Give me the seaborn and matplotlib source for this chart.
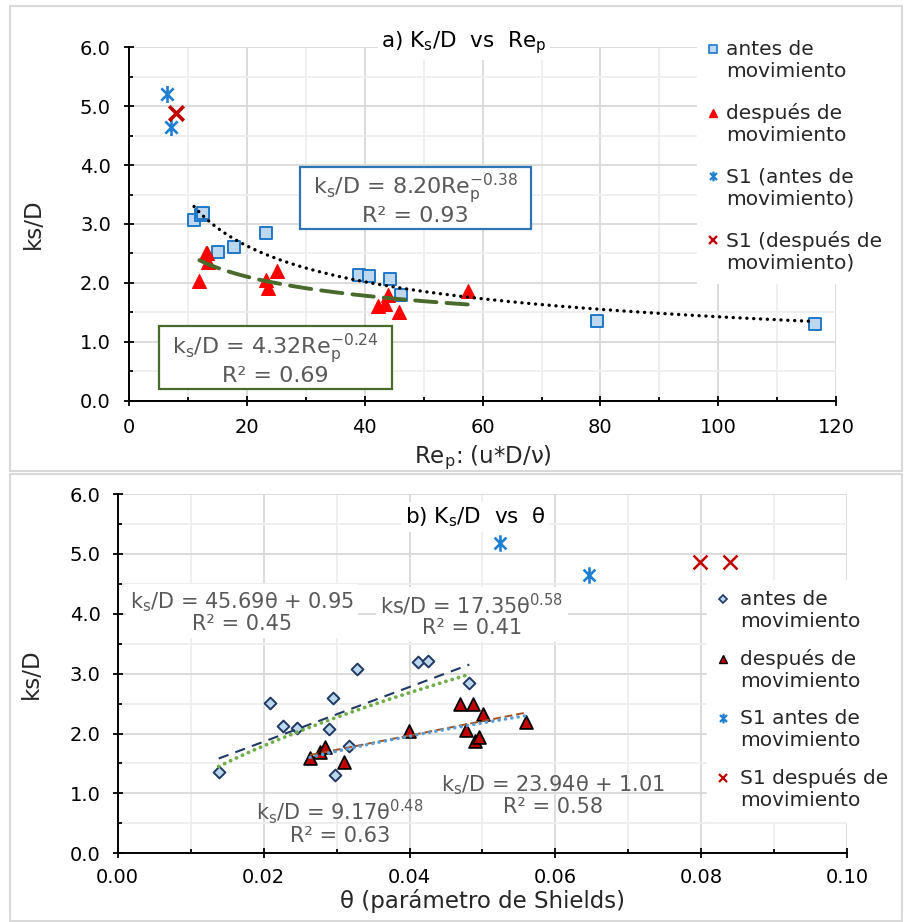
import numpy as np
import pandas as pd
import matplotlib
matplotlib.use("Agg")
import matplotlib.pyplot as plt
import seaborn as sns
from matplotlib.path import Path
from matplotlib.lines import Line2D
from matplotlib.legend_handler import HandlerLine2D
from matplotlib.patches import Rectangle
from matplotlib.ticker import MultipleLocator, FormatStrFormatter

# ---------------- data: panel a (ks/D vs Re_p) ----------------
rep_antes = [10.99, 12.10, 12.46, 15.11, 17.78, 23.21, 39.06, 40.75, 44.27, 46.14, 79.37, 116.4]
ks_antes_a = [3.07, 3.16, 3.19, 2.52, 2.61, 2.85, 2.13, 2.11, 2.07, 1.79, 1.36, 1.30]
rep_desp = [11.89, 13.05, 13.25, 13.41, 23.21, 23.50, 25.13, 42.18, 43.42, 43.98, 45.85, 57.46]
ks_desp_a = [2.03, 2.50, 2.51, 2.36, 2.05, 1.92, 2.20, 1.60, 1.65, 1.79, 1.51, 1.86]
rep_s1_antes = [6.45, 7.03]
ks_s1_antes_a = [5.20, 4.65]
rep_s1_desp = [7.88]
ks_s1_desp_a = [4.88]

# ---------------- data: panel b (ks/D vs theta) ----------------
theta_antes = [0.01384, 0.02092, 0.02266, 0.02453, 0.02892, 0.02947, 0.03280, 0.02978, 0.03174, 0.04120, 0.04249, 0.04819]
ks_antes_b = [1.36, 2.51, 2.13, 2.10, 2.07, 2.60, 3.08, 1.31, 1.79, 3.19, 3.21, 2.84]
theta_desp = [0.02636, 0.02773, 0.02841, 0.03102, 0.03988, 0.04692, 0.04874, 0.05003, 0.04774, 0.04897, 0.04956, 0.05596]
ks_desp_b = [1.59, 1.69, 1.78, 1.52, 2.04, 2.50, 2.50, 2.32, 2.06, 1.88, 1.94, 2.19]
theta_s1_antes = [0.0524, 0.0646]
ks_s1_antes_b = [5.19, 4.65]
theta_s1_desp = [0.0798, 0.0839]
ks_s1_desp_b = [4.86, 4.86]

# ---------------- trendline coefficients (as printed) ----------------
fit_a_antes = (8.20, -0.38)      # power
fit_a_desp = (4.32, -0.24)       # power
fit_b_antes_lin = (45.69, 0.95)  # linear
fit_b_antes_pow = (17.35, 0.58)  # power
fit_b_desp_lin = (23.94, 1.01)   # linear
fit_b_desp_pow = (9.17, 0.48)    # power

sns.set_theme(style="white")
plt.rcParams["font.family"] = ["DejaVu Sans"]
plt.rcParams["mathtext.fontset"] = "dejavusans"

W, H = 906, 922
fig = plt.figure(figsize=(W / 100, H / 100), dpi=100)


def fx(x):
    return x / W


def fy(y):
    return 1 - y / H


def axes_rect(l, t, r, b):
    return [fx(l), fy(b), (r - l) / W, (b - t) / H]


axa = fig.add_axes(axes_rect(129.3, 47.3, 836.0, 400.7))
axb = fig.add_axes(axes_rect(117.7, 494.0, 847.3, 853.3))

# asterisk marker (Excel "star")
star = Path([(0, -1), (0, 1), (-0.72, -0.72), (0.72, 0.72), (-0.72, 0.72), (0.72, -0.72)],
            [Path.MOVETO, Path.LINETO] * 3)

FS = 14
LEGFS = 14.5
LABFS = 16.5
GRAY = "#595959"


def style_axes(ax, xmaj, xmin, ymaj, ymin, xfmt, yfmt, xlim, ylim, xpad, ypad):
    ax.set_xlim(*xlim)
    ax.set_ylim(*ylim)
    ax.xaxis.set_major_locator(MultipleLocator(xmaj))
    ax.xaxis.set_minor_locator(MultipleLocator(xmin))
    ax.yaxis.set_major_locator(MultipleLocator(ymaj))
    ax.yaxis.set_minor_locator(MultipleLocator(ymin))
    ax.xaxis.set_major_formatter(FormatStrFormatter(xfmt))
    ax.yaxis.set_major_formatter(FormatStrFormatter(yfmt))
    ax.grid(which="major", color="#d9d9d9", lw=1.3)
    ax.grid(which="minor", color="#eeeeee", lw=1.3)
    ax.set_axisbelow(True)
    for s in ["top", "right"]:
        ax.spines[s].set_visible(False)
    for s in ["left", "bottom"]:
        ax.spines[s].set_color("black")
        ax.spines[s].set_linewidth(1.4)
    ax.tick_params(which="major", direction="inout", length=7.5, width=1.3, color="black",
                   labelsize=FS, labelcolor="black", bottom=True, left=True)
    ax.tick_params(which="minor", direction="in", length=3, width=1.3, color="black",
                   bottom=True, left=True)
    ax.tick_params(axis="x", which="major", pad=xpad)
    ax.tick_params(axis="y", which="major", pad=ypad)
    ax.set_facecolor("white")


class UpHandler(HandlerLine2D):
    def create_artists(self, legend, orig_handle, xdescent, ydescent, width, height, fontsize, trans):
        arts = super().create_artists(legend, orig_handle, xdescent, ydescent, width, height, fontsize, trans)
        for a in arts:
            a.set_ydata(np.asarray(a.get_ydata()) + 0.6 * fontsize)
        return arts


# ======================= Panel a =======================
style_axes(axa, 20, 10, 1, 0.5, "%d", "%.1f", (0, 120), (0, 6), 9, 9.5)

x1 = np.linspace(min(rep_antes), max(rep_antes), 200)
sns.lineplot(x=x1, y=fit_a_antes[0] * x1 ** fit_a_antes[1], ax=axa, color="black", lw=2.4,
             linestyle=(0, (0.05, 2.0)), dash_capstyle="round", zorder=4)
x2 = np.linspace(min(rep_desp), max(rep_desp), 200)
sns.lineplot(x=x2, y=fit_a_desp[0] * x2 ** fit_a_desp[1], ax=axa, color="#4a6a2c", lw=2.8,
             linestyle=(0, (5.5, 2.6)), dash_capstyle="round", zorder=4)

sns.scatterplot(x=rep_antes, y=ks_antes_a, ax=axa, marker="s", s=75, color="#bdd7ee",
                edgecolor="#1f78c8", linewidth=1.4, zorder=3, legend=False)
sns.scatterplot(x=rep_desp, y=ks_desp_a, ax=axa, marker="^", s=100, color="#ff0000",
                edgecolor="#ff0000", linewidth=0.8, zorder=3, legend=False)
sns.scatterplot(x=rep_s1_antes, y=ks_s1_antes_a, ax=axa, marker=star, s=150, color="#1f7fd0",
                edgecolor="#1f7fd0", linewidth=1.9, zorder=3, legend=False)
sns.scatterplot(x=rep_s1_desp, y=ks_s1_desp_a, ax=axa, marker="x", s=110, color="#c00000",
                edgecolor="#c00000", linewidth=2.6, zorder=3, legend=False)

axa.set_xlabel(r"Re$_{\mathregular{p}}$: (u*D/ν)", fontsize=LABFS)
axa.set_ylabel("ks/D", fontsize=LABFS)
axa.xaxis.set_label_coords(0.5, -0.122)
axa.yaxis.set_label_coords(-0.12, 0.5)

# title a
fig.text(fx(464), fy(43), r"a) K$_{\mathregular{s}}$/D  vs  Re$_{\mathregular{p}}$", fontsize=15.5,
         ha="center", va="center", color="black",
         bbox=dict(boxstyle="square,pad=0.15", fc="white", ec="none"))

# equation boxes a
fig.patches.append(Rectangle((fx(300.3), fy(229.3)), (531 - 300.3) / W, (229.3 - 166.7) / H,
                             transform=fig.transFigure, fc="white", ec="#2e75b6", lw=1.6, zorder=2))
fig.text(fx(415.6), fy(199), r"k$_{\mathregular{s}}$/D = 8.20Re$_{\mathregular{p}}^{\mathregular{-0.38}}$"
         + "\nR² = 0.93", fontsize=16, color=GRAY, ha="center", va="center", multialignment="center",
         linespacing=1.0, zorder=3)
fig.patches.append(Rectangle((fx(159.3), fy(389.3)), (391.7 - 159.3) / W, (389.3 - 326) / H,
                             transform=fig.transFigure, fc="white", ec="#4a6a2c", lw=1.6, zorder=2))
fig.text(fx(275.5), fy(359), r"k$_{\mathregular{s}}$/D = 4.32Re$_{\mathregular{p}}^{\mathregular{-0.24}}$"
         + "\nR² = 0.69", fontsize=16, color=GRAY, ha="center", va="center", multialignment="center",
         linespacing=1.0, zorder=3)

# legend a
h_a = [
    Line2D([], [], ls="none", marker="s", markersize=5.5, mfc="#bdd7ee", mec="#1f78c8", mew=1.2),
    Line2D([], [], ls="none", marker="^", markersize=6, mfc="#ff0000", mec="#ff0000"),
    Line2D([], [], ls="none", marker=star, markersize=7, mfc="none", mec="#1f7fd0", mew=1.6),
    Line2D([], [], ls="none", marker="x", markersize=6, mfc="none", mec="#c00000", mew=1.7),
]
l_a = ["antes de\nmovimiento", "después de\nmovimiento", "S1 (antes de\nmovimiento)",
       "S1 (después de\nmovimiento)"]
leg_a = axa.legend(h_a, l_a, loc="upper left", bbox_to_anchor=(fx(697), fy(30)),
                   bbox_transform=fig.transFigure, frameon=True, fancybox=False, framealpha=1,
                   edgecolor="white", facecolor="white", fontsize=LEGFS, handlelength=0.6,
                   handletextpad=0.33, labelspacing=1.1, borderpad=0.5, borderaxespad=0,
                   handler_map={Line2D: UpHandler()})
leg_a.set_zorder(6)

# ======================= Panel b =======================
style_axes(axb, 0.02, 0.01, 1, 0.5, "%.2f", "%.1f", (0, 0.10), (0, 6), 7, 8.5)

t1 = np.linspace(min(theta_antes), max(theta_antes), 200)
sns.lineplot(x=t1, y=fit_b_antes_lin[0] * t1 + fit_b_antes_lin[1], ax=axb, color="#1f3864", lw=1.5,
             linestyle=(0, (5, 3.5)), zorder=4)
sns.lineplot(x=t1, y=fit_b_antes_pow[0] * t1 ** fit_b_antes_pow[1], ax=axb, color="#70ad47", lw=2.7,
             linestyle=(0, (0.05, 1.7)), dash_capstyle="round", zorder=4)
t2 = np.linspace(min(theta_desp), max(theta_desp), 200)
sns.lineplot(x=t2, y=fit_b_desp_lin[0] * t2 + fit_b_desp_lin[1], ax=axb, color="#a5501a", lw=1.4,
             linestyle=(0, (4, 2)), zorder=4)
sns.lineplot(x=t2, y=fit_b_desp_pow[0] * t2 ** fit_b_desp_pow[1], ax=axb, color="#5b9bd5", lw=2.5,
             linestyle=(0, (0.05, 1.8)), dash_capstyle="round", zorder=4)

sns.scatterplot(x=theta_antes, y=ks_antes_b, ax=axb, marker="D", s=36, color="#bdd7ee",
                edgecolor="#1f3864", linewidth=1.4, zorder=3, legend=False)
sns.scatterplot(x=theta_desp, y=ks_desp_b, ax=axb, marker="^", s=85, color="#c00000",
                edgecolor="black", linewidth=1.3, zorder=3, legend=False)
sns.scatterplot(x=theta_s1_antes, y=ks_s1_antes_b, ax=axb, marker=star, s=140, color="#1f7fd0",
                edgecolor="#1f7fd0", linewidth=1.9, zorder=3, legend=False)
sns.scatterplot(x=theta_s1_desp, y=ks_s1_desp_b, ax=axb, marker="x", s=100, color="#c00000",
                edgecolor="#c00000", linewidth=1.8, zorder=3, legend=False)

axb.set_xlabel("θ (parámetro de Shields)", fontsize=LABFS)
axb.set_ylabel("ks/D", fontsize=LABFS)
axb.xaxis.set_label_coords(0.5, -0.1)
axb.yaxis.set_label_coords(-0.102, 0.5)

fig.text(fx(475), fy(517), r"b) K$_{\mathregular{s}}$/D  vs  θ", fontsize=15.5, ha="center", va="center",
         color="black", bbox=dict(boxstyle="square,pad=0.15", fc="white", ec="none"))

EQFS = 15
eq_box = dict(boxstyle="square,pad=0.2", fc="white", ec="none")
fig.text(fx(242), fy(612), r"k$_{\mathregular{s}}$/D = 45.69θ + 0.95" + "\nR² = 0.45", fontsize=EQFS,
         color=GRAY, ha="center", va="center", multialignment="center", linespacing=1.0, bbox=eq_box)
fig.text(fx(472), fy(615), r"ks/D = 17.35θ$^{\mathregular{0.58}}$" + "\nR² = 0.41", fontsize=EQFS,
         color=GRAY, ha="center", va="center", multialignment="center", linespacing=1.0, bbox=eq_box)
fig.text(fx(340), fy(821.5), r"k$_{\mathregular{s}}$/D = 9.17θ$^{\mathregular{0.48}}$" + "\nR² = 0.63",
         fontsize=EQFS, color=GRAY, ha="center", va="center", multialignment="center", linespacing=1.0)
fig.text(fx(553), fy(795), r"k$_{\mathregular{s}}$/D = 23.94θ + 1.01" + "\nR² = 0.58", fontsize=EQFS,
         color=GRAY, ha="center", va="center", multialignment="center", linespacing=1.0)

h_b = [
    Line2D([], [], ls="none", marker="D", markersize=3.6, mfc="#bdd7ee", mec="#1f3864", mew=1.2),
    Line2D([], [], ls="none", marker="^", markersize=5.5, mfc="#c00000", mec="black", mew=1.0),
    Line2D([], [], ls="none", marker=star, markersize=7, mfc="none", mec="#1f7fd0", mew=1.6),
    Line2D([], [], ls="none", marker="x", markersize=6, mfc="none", mec="#c00000", mew=1.6),
]
l_b = ["antes de\nmovimiento", "después de\nmovimiento", "S1 antes de\nmovimiento",
       "S1 después de\nmovimiento"]
leg_b = axb.legend(h_b, l_b, loc="upper left", bbox_to_anchor=(fx(707), fy(580)),
                   bbox_transform=fig.transFigure, frameon=True, fancybox=False, framealpha=1,
                   edgecolor="white", facecolor="white", fontsize=LEGFS, handlelength=0.6,
                   handletextpad=0.55, labelspacing=0.9, borderpad=0.5, borderaxespad=0,
                   handler_map={Line2D: UpHandler()})
leg_b.set_zorder(6)

# panel frames
fig.patches.append(Rectangle((fx(9.5), fy(471.5)), (902 - 9.5) / W, (471.5 - 6.5) / H,
                             transform=fig.transFigure, fc="none", ec="#d9d9d9", lw=1.5, zorder=0))
fig.patches.append(Rectangle((fx(9.5), fy(921)), (902 - 9.5) / W, (921 - 474) / H,
                             transform=fig.transFigure, fc="none", ec="#d9d9d9", lw=1.5, zorder=0))

fig.savefig("out.png", dpi=100, facecolor="white")
